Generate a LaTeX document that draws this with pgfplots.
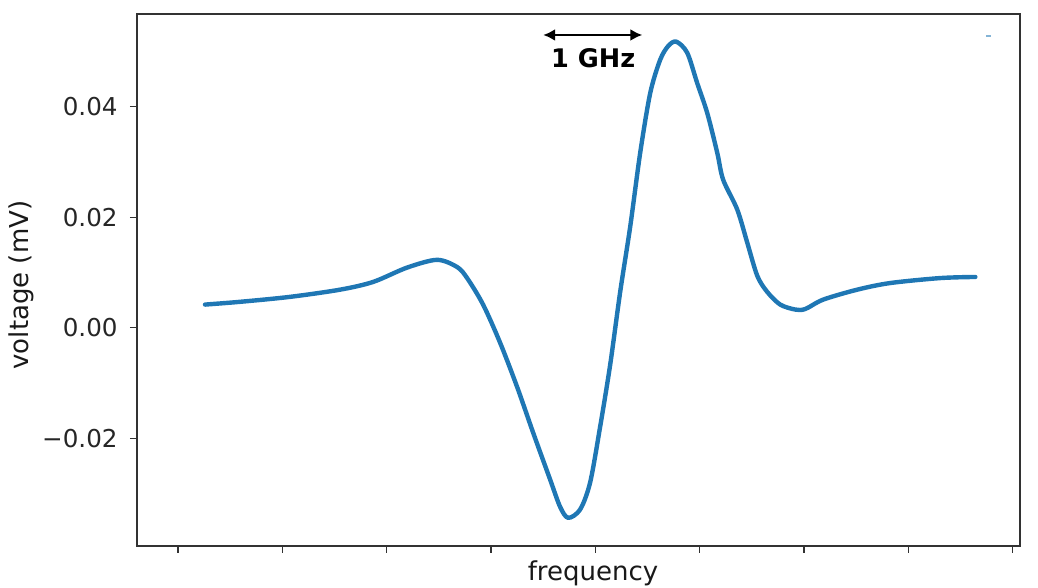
\documentclass[border=0pt]{standalone}
\usepackage{fontspec}
\setmainfont{DejaVu Sans}
\usepackage{pgfplots}
\pgfplotsset{compat=1.18}
\usetikzlibrary{arrows.meta}

\definecolor{mplblue}{RGB}{31,119,180}
\definecolor{frame}{RGB}{50,50,50}

% measured response, frequency in GHz (arbitrary origin), voltage in mV
\pgfplotstableread{
f      v
0.259  0.0042
0.594  0.0047
1.074  0.0056
1.553  0.0069
1.870  0.0083
2.196  0.0109
2.483  0.0123
2.675  0.0110
2.771  0.0090
2.924  0.0042
3.087  -0.0027
3.250  -0.0107
3.404  -0.0190
3.567  -0.0275
3.662  -0.0324
3.739  -0.0344
3.854  -0.0329
3.950  -0.0280
4.046  -0.0179
4.142  -0.0067
4.238  0.0065
4.334  0.0183
4.430  0.0317
4.526  0.0425
4.621  0.0485
4.698  0.0510
4.775  0.0518
4.880  0.0498
4.976  0.0443
5.072  0.0389
5.168  0.0317
5.225  0.0268
5.360  0.0214
5.456  0.0154
5.552  0.0094
5.647  0.0065
5.772  0.0042
5.916  0.0033
6.012  0.0034
6.184  0.0051
6.510  0.0069
6.826  0.0081
7.306  0.0090
7.642  0.0092
}\signal

\begin{document}
\begin{tikzpicture}
\begin{axis}[
  name=ax,
  scale only axis,
  width=441.5pt, height=266pt,
  xmin=-0.393, xmax=8.07,
  ymin=-0.0395, ymax=0.0568,
  axis line style={frame, line width=0.6pt},
  tick pos=left,
  tick align=outside,
  major tick length=3.5pt,
  every tick/.style={frame, line width=0.6pt},
  xtick={0,1,...,8},
  xticklabels={},
  ytick={-0.02,0,0.02,0.04},
  yticklabels={−0.02,0.00,0.02,0.04},
  yticklabel style={font=\fontsize{12.3}{14}\selectfont, text=black!85, inner sep=0pt, anchor=east, xshift=-6pt},
  xlabel={frequency},
  ylabel={voltage (mV)},
  every axis x label/.style={at={([shift={(7.25pt,-7pt)}]axis description cs:0.5,0)}, anchor=north,
    font=\fontsize{13}{15}\selectfont, text=black!90, inner sep=0pt},
  every axis y label/.style={at={([shift={(-51.5pt,-2.5pt)}]axis description cs:0,0.5)}, anchor=south, rotate=90,
    font=\fontsize{13}{15}\selectfont, text=black!90, inner sep=0pt},
  clip=false,
]
\addplot[mplblue, line width=2.2pt, smooth, tension=0.5, line join=round, line cap=round] table[x=f, y=v] {\signal};
\addplot[mplblue!55, line width=1pt] coordinates {(7.747,0.0528) (7.795,0.0528)};
\draw[{Latex[length=6pt,width=6pt]}-{Latex[length=6pt,width=6pt]}, line width=1.1pt]
  (axis cs:3.50,0.0530) -- (axis cs:4.45,0.0530);
\node[anchor=base, inner sep=0pt, font=\bfseries\fontsize{12.8}{15}\selectfont]
  at (axis cs:3.98,0.0471) {1 GHz};
\end{axis}
\pgfresetboundingbox
\path[use as bounding box] ([shift={(-68.5pt,-21pt)}]ax.south west) rectangle ([shift={(9pt,7pt)}]ax.north east);
\end{tikzpicture}
\end{document}
